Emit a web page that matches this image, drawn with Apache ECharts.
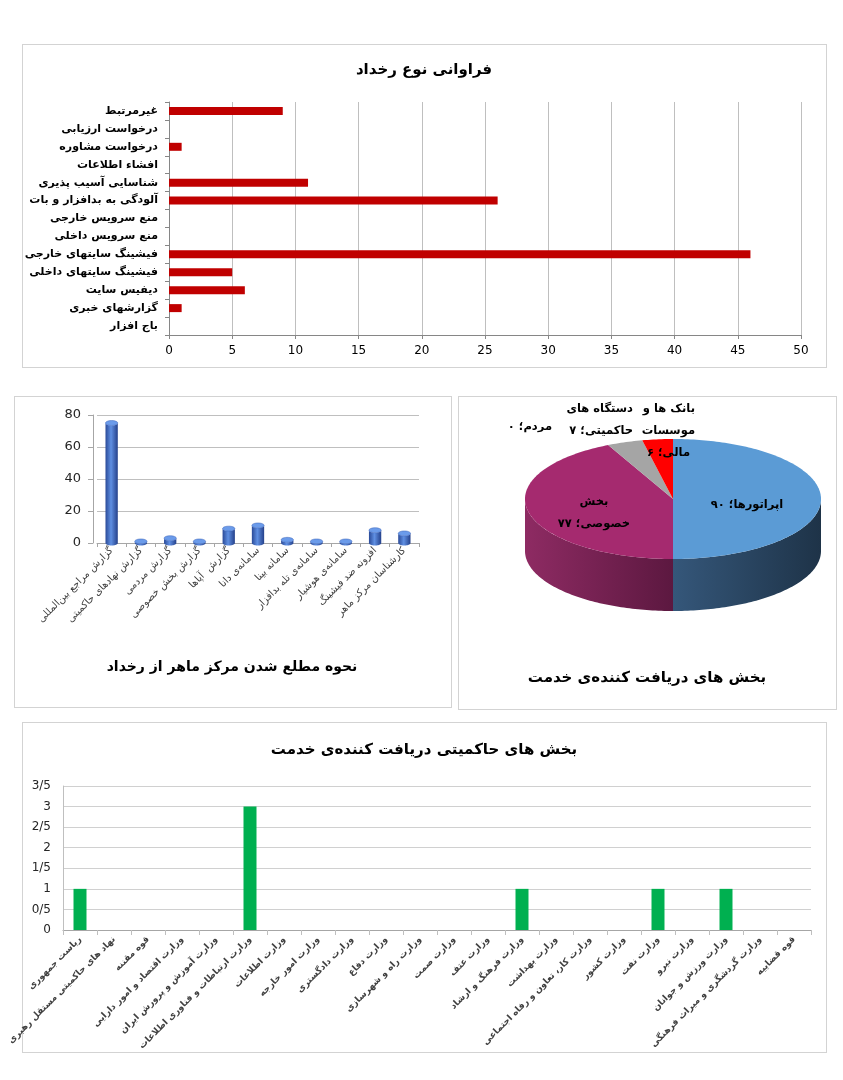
<!DOCTYPE html>
<html><head><meta charset="utf-8">
<script src="https://cdn.jsdelivr.net/npm/echarts@6/dist/echarts.min.js"></script>
<style>
html,body{margin:0;padding:0;background:#fff;}
#wrap{position:relative;width:843px;height:1080px;}
.box{position:absolute;border:1px solid #d3d3d3;box-sizing:border-box;}
#chart{position:absolute;left:0;top:0;width:843px;height:1080px;}
</style></head>
<body><div id="wrap">
<div class="box" style="left:22px;top:44px;width:805px;height:324px"></div>
<div class="box" style="left:14px;top:396px;width:438px;height:312px"></div>
<div class="box" style="left:458px;top:396px;width:379px;height:314px"></div>
<div class="box" style="left:22px;top:722px;width:805px;height:331px"></div>
<div id="chart"></div>
</div>
<script>
// ---------- data ----------
const incidentTypes = ['غیرمرتبط','درخواست ارزیابی','درخواست مشاوره','افشاء اطلاعات','شناسایی آسیب پذیری','آلودگی به بدافزار و بات','منع سرویس خارجی','منع سرویس داخلی','فیشینگ سایتهای خارجی','فیشینگ سایتهای داخلی','دیفیس سایت','گزارشهای خبری','باج افزار'];
const incidentCounts = [9,0,1,0,11,26,0,0,46,5,6,1,0];

const sourceNames = ['گزارش مراجع بین‌المللی','گزارش نهادهای حاکمیتی','گزارش مردمی','گزارش بخش خصوصی','گزارش  آپاها','سامانه‌ی دانا','سامانه بینا','سامانه‌ی تله بدافزار','سامانه‌ی هوشیار','افزونه ضد فیشینگ','کارشناسان مرکز ماهر'];
const sourceCounts = [75,1,3,1,9,11,2,1,1,8,6];

const sectorNames = ['اپراتورها','بخش خصوصی','مردم','دستگاه های حاکمیتی','بانک ها و موسسات مالی'];
const sectorCounts = [90,77,0,7,6];

const govNames = ['ریاست جمهوری','نهاد های حاکمیتی مستقل رهبری','قوه مقننه','وزارت اقتصاد و امور دارایی','وزارت آموزش و پرورش ایران','وزارت ارتباطات و فناوری اطلاعات','وزارت اطلاعات','وزارت امور خارجه','وزارت دادگستری','وزارت دفاع','وزارت راه و شهرسازی','وزارت صمت','وزارت عتف','وزارت فرهنگ و ارشاد','وزارت بهداشت','وزارت کار، تعاون و رفاه اجتماعی','وزارت کشور','وزارت نفت','وزارت نیرو','وزارت ورزش و جوانان','وزارت گردشگری و میراث فرهنگی','قوه قضاییه'];
const govCounts = [1,0,0,0,0,3,0,0,0,0,0,0,0,1,0,0,0,1,0,1,0,0];

const titles = ['فراوانی نوع رخداد','نحوه مطلع شدن مرکز ماهر از رخداد','بخش های دریافت کننده‌ی خدمت','بخش های حاکمیتی دریافت کننده‌ی خدمت'];

// ---------- helpers ----------
const FONT = 'DejaVu Sans';
const fa = n => String(n).replace(/\d/g, d => '۰۱۲۳۴۵۶۷۸۹'[d]);
const pieTotal = sectorCounts.reduce((a,b)=>a+b,0);
const pieBreaks = [[], [1], [], [2], [3,4]];
function pieLines(i){
  const words = (sectorNames[i] + '؛ ' + fa(sectorCounts[i])).split(' ');
  const lines = []; let cur = [];
  words.forEach((w,k)=>{ cur.push(w); if (pieBreaks[i].includes(k+1)) { lines.push(cur.join(' ')); cur = []; } });
  if (cur.length) lines.push(cur.join(' '));
  return lines;
}

const chart = echarts.init(document.getElementById('chart'), null, {renderer:'canvas'});

function titleItem(text, x, y, size){
  return {text, left:x, top:y, textAlign:'center', padding:0,
    textStyle:{fontFamily:FONT, fontWeight:'bold', fontSize:size, color:'#000'}};
}

// cylinder renderer
function cylinder(params, api){
  const base = api.coord([api.value(0), 0]);
  const top = api.coord([api.value(0), api.value(1)]);
  const w = api.size([1,0])[0]*0.42;
  const rx = w/2, ry = w*0.2;
  const x = base[0];
  const ell = (cy, from, to) => { const p=[]; for(let k=0;k<=24;k++){const a=from+(to-from)*k/24; p.push([x+rx*Math.cos(a), cy+ry*Math.sin(a)]);} return p; };
  const grad = new echarts.graphic.LinearGradient(0,0,1,0,[
    {offset:0,color:'#2A4A98'},{offset:0.45,color:'#5F8FE2'},{offset:1,color:'#24408A'}]);
  const body = ell(base[1], 0, Math.PI).concat(ell(top[1], Math.PI, 0));
  return {type:'group', children:[
    {type:'polygon', shape:{points:body}, style:{fill:grad}},
    {type:'polygon', shape:{points:ell(top[1], 0, Math.PI*2)}, style:{fill:'#6B9BEA', stroke:'#3A62B8', lineWidth:0.5}}
  ]};
}

// 3D pie renderer
const pieTop = ['#5B9BD5','#A52A6F','#7F7F7F','#A5A5A5','#FF0000'];
const pieSide = [['#35577A','#1E3348'],['#8E2B63','#5C1840'],['#555','#444'],['#7A7A7A','#666'],['#C00000','#990000']];
function pieSlice(params, api){
  const i = params.dataIndex;
  const cx=673, cy=499, rx=148, ry=60, depth=52;
  let start = 0; for (let j=0;j<i;j++) start += sectorCounts[j];
  const a0 = start/pieTotal*Math.PI*2, a1 = (start+sectorCounts[i])/pieTotal*Math.PI*2;
  const pt = (a, dy) => [cx+rx*Math.sin(a), cy - ry*Math.cos(a) + (dy||0)];
  const arc = (s, e, dy) => { const p=[]; const n=Math.max(2,Math.ceil((e-s)/0.02)); for(let k=0;k<=n;k++) p.push(pt(s+(e-s)*k/n, dy)); return p; };
  const children = [];
  if (a1 > a0) {
    const s0 = Math.max(a0, Math.PI/2), s1 = Math.min(a1, Math.PI*1.5);
    if (s1 > s0) {
      const side = arc(s0, s1, 0).concat(arc(s0, s1, depth).reverse());
      const c = pieSide[i];
      const g = new echarts.graphic.LinearGradient(0,0,1,0,[{offset:0,color:c[0]},{offset:1,color:c[1]}]);
      children.push({type:'polygon', shape:{points:side}, style:{fill:g}, z2:5});
    }
    children.push({type:'polygon', shape:{points:[[cx,cy]].concat(arc(a0,a1,0))}, style:{fill:pieTop[i]}, z2:10});
  }
  // label
  let lx, ly, align='center';
  const mid = (a0+a1)/2;
  if (i === 0 || i === 1) { lx = cx + rx*0.5*Math.sin(mid) - (i===1?7:0); ly = cy - ry*0.5*Math.cos(mid) + (i===1?-4:6); }
  else if (i === 2) { lx = 552; ly = 427; align='right'; }
  else if (i === 3) { lx = 633; ly = 409; align='right'; }
  else { lx = 695; ly = 409; align='right'; }
  const lines = pieLines(i);
  lines.forEach((t,k)=>{
    children.push({type:'text', z2:20, style:{text:t, x:lx - (i===4 && k===2 ? 5 : 0), y:ly + k*22, align, verticalAlign:'middle',
      font:'bold 11.5px "DejaVu Sans"', fill:'#000'}});
  });
  return {type:'group', children};
}

const option = {
  animation:false,
  textStyle:{fontFamily:FONT},
  title:[
    titleItem(titles[0], 424, 63, 15),
    titleItem(titles[1], 232, 660, 14),
    titleItem(titles[2], 647, 671, 15),
    titleItem(titles[3], 424, 743, 15)
  ],
  grid:[
    {left:169, top:102, width:632, height:233},
    {left:97, top:415, width:322, height:128},
    {left:63, top:786, width:748, height:144}
  ],
  xAxis:[
    {type:'value', gridIndex:0, min:0, max:50, interval:5,
      axisLine:{show:true, lineStyle:{color:'#868686'}},
      axisTick:{show:true, length:4, lineStyle:{color:'#868686'}},
      axisLabel:{fontFamily:FONT, fontSize:12, color:'#000', margin:10},
      splitLine:{lineStyle:{color:'#BFBFBF'}}},
    {type:'category', gridIndex:1, data:sourceNames,
      axisLine:{lineStyle:{color:'#A6A6A6'}},
      axisTick:{show:true, length:4, lineStyle:{color:'#A6A6A6'}},
      axisLabel:{interval:0, rotate:45, fontFamily:FONT, fontSize:10, color:'#404040', margin:6}},
    {type:'category', gridIndex:2, data:govNames,
      axisLine:{lineStyle:{color:'#A6A6A6'}},
      axisTick:{show:true, length:5, lineStyle:{color:'#BFBFBF'}},
      axisLabel:{interval:0, rotate:45, fontFamily:FONT, fontSize:9, fontWeight:'bold', color:'#404040', margin:8}}
  ],
  yAxis:[
    {type:'category', gridIndex:0, inverse:true, data:incidentTypes,
      axisLine:{show:true, lineStyle:{color:'#868686'}},
      axisTick:{show:true, length:4, lineStyle:{color:'#868686'}},
      axisLabel:{interval:0, fontFamily:FONT, fontSize:11, fontWeight:'bold', color:'#000', margin:11}},
    {type:'value', gridIndex:1, min:0, max:80, interval:20, offset:4,
      axisLine:{show:true, lineStyle:{color:'#A6A6A6'}},
      axisTick:{show:true, length:5, lineStyle:{color:'#A6A6A6'}},
      axisLabel:{fontFamily:FONT, fontSize:13, color:'#262626', margin:12},
      splitLine:{lineStyle:{color:'#BFBFBF'}}},
    {type:'value', gridIndex:2, min:0, max:3.5, interval:0.5,
      axisLine:{show:true, lineStyle:{color:'#BFBFBF'}},
      axisTick:{show:false},
      axisLabel:{fontFamily:FONT, fontSize:12, color:'#262626', margin:12,
        formatter: v => String(v).replace('.', '/')},
      splitLine:{lineStyle:{color:'#D0D0D0'}}}
  ],
  series:[
    {type:'bar', xAxisIndex:0, yAxisIndex:0, data:incidentCounts, barWidth:8, itemStyle:{color:'#C00000'}},
    {type:'custom', xAxisIndex:1, yAxisIndex:1, data:sourceCounts.map((v,i)=>[i,v]), renderItem:cylinder, clip:false},
    {type:'bar', xAxisIndex:2, yAxisIndex:2, data:govCounts, barWidth:13, itemStyle:{color:'#00B050'}},
    {type:'custom', coordinateSystem:'none', data:sectorCounts, renderItem:pieSlice}
  ]
};
chart.setOption(option);
</script>
</body></html>
